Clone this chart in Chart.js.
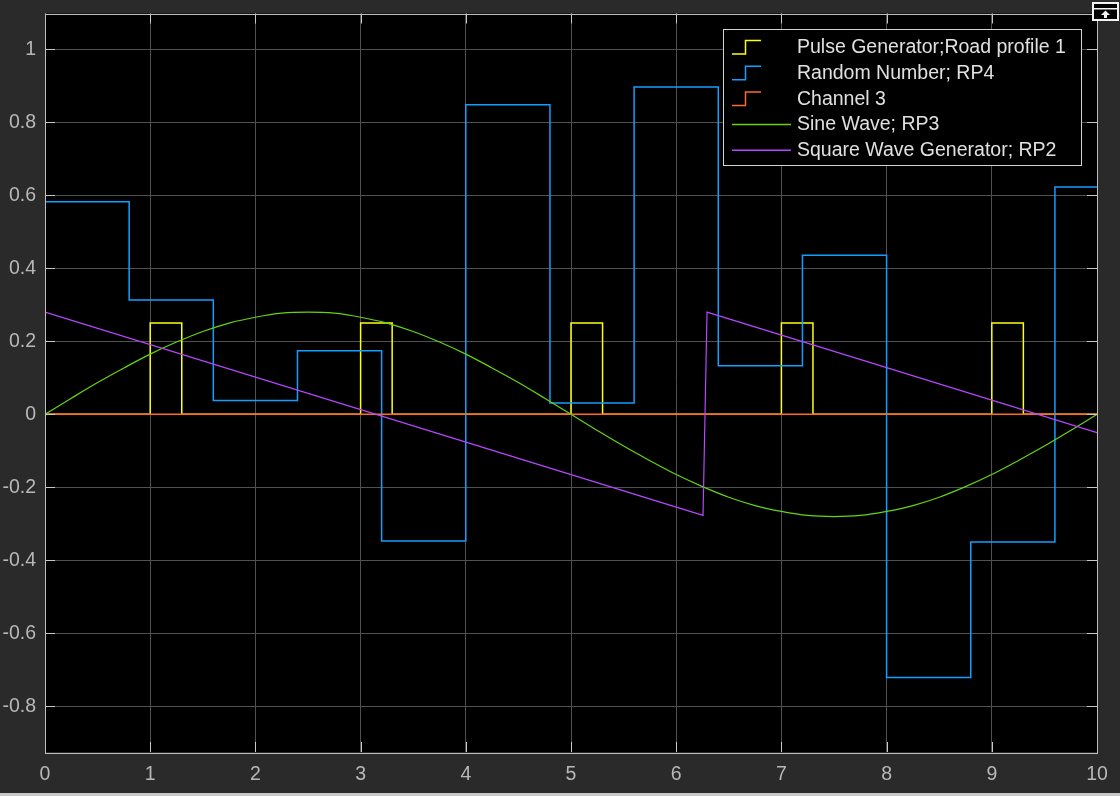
<!DOCTYPE html>
<html><head><meta charset="utf-8">
<script src="https://cdn.jsdelivr.net/npm/chart.js@4.4.1/dist/chart.umd.min.js"></script>
<style>html,body{margin:0;padding:0;background:#2a2a2a;overflow:hidden;}canvas{display:block;}</style>
</head><body>
<canvas id="c" width="1120" height="796"></canvas>
<script>
const xTicks = [0,1,2,3,4,5,6,7,8,9,10];
const yTicks = [-0.8,-0.6,-0.4,-0.2,0,0.2,0.4,0.6,0.8,1];
const seriesNames = ['Pulse Generator;Road profile 1','Random Number; RP4','Channel 3','Sine Wave; RP3','Square Wave Generator; RP2'];

const pulseT = [0,1,1.3,3,3.3,5,5.3,7,7.3,9,9.3,10];
const pulseV = [0,0.25,0,0.25,0,0.25,0,0.25,0,0.25,0,0];

const randT = [0,0.8,1.6,2.4,3.2,4.0,4.8,5.6,6.4,7.2,8.0,8.8,9.6,10];
const randV = [0.582,0.313,0.038,0.174,-0.347,0.848,0.031,0.897,0.133,0.436,-0.721,-0.35,0.623,0.623];

const chanT = [0,10];
const chanV = [0,0];

const sineT = [0,0.25,0.5,0.75,1,1.25,1.5,1.75,2,2.25,2.5,2.75,3,3.25,3.5,3.75,4,4.25,4.5,4.75,5,
               5.25,5.5,5.75,6,6.25,6.5,6.75,7,7.25,7.5,7.75,8,8.25,8.5,8.75,9,9.25,9.5,9.75,10];
const sineV = [0,0.044,0.087,0.127,0.165,0.198,0.227,0.25,0.266,0.277,0.28,0.277,0.266,0.25,0.227,0.198,0.165,0.127,0.087,0.044,0,
               -0.044,-0.087,-0.127,-0.165,-0.198,-0.227,-0.25,-0.266,-0.277,-0.28,-0.277,-0.266,-0.25,-0.227,-0.198,-0.165,-0.127,-0.087,-0.044,0];

const sawT = [0,6.255,6.293,10];
const sawV = [0.28,-0.277,0.28,-0.05];

const pts = (t,v) => t.map((x,i)=>({x:x,y:v[i]}));

const FONT = '"Liberation Sans", Arial, Helvetica, sans-serif';

const framePlugin = {
  id:'frame',
  beforeDraw(chart){
    const c = chart.ctx, a = chart.chartArea;
    c.save();
    c.fillStyle = '#2a2a2a';
    c.fillRect(0,0,chart.width,chart.height);
    c.fillStyle = '#000';
    c.fillRect(a.left,a.top,a.right-a.left,a.bottom-a.top);
    c.restore();
  },
  afterDraw(chart){
    const c = chart.ctx, a = chart.chartArea;
    const xs = chart.scales.x, ys = chart.scales.y;
    c.save();
    c.strokeStyle = '#c8c8c8';
    c.lineWidth = 1;
    c.beginPath();
    xTicks.forEach(v=>{
      const px = Math.round(xs.getPixelForValue(v))+0.5;
      c.moveTo(px,a.bottom); c.lineTo(px,a.bottom-10);
      c.moveTo(px,a.top); c.lineTo(px,a.top+10);
    });
    yTicks.forEach(v=>{
      const py = Math.round(ys.getPixelForValue(v))+0.5;
      c.moveTo(a.left,py); c.lineTo(a.left+10,py);
      c.moveTo(a.right,py); c.lineTo(a.right-10,py);
    });
    c.stroke();
    c.strokeStyle = '#bdbdbd';
    c.strokeRect(Math.round(a.left)+0.5, Math.round(a.top)+0.5, Math.round(a.right-a.left), Math.round(a.bottom-a.top));

    const lx=723.5, ly=29.5, lw=358, lh=136;
    c.fillStyle='#000';
    c.fillRect(lx,ly,lw,lh);
    c.strokeStyle='#d4d4d4';
    c.lineWidth=1;
    c.strokeRect(lx,ly,lw,lh);
    const rowY=[47,72.7,98.4,124,149.7];
    c.font = '19.5px '+FONT;
    c.textBaseline='middle';
    c.textAlign='left';
    chart.data.datasets.forEach((ds,i)=>{
      const y=rowY[i];
      c.strokeStyle=ds.borderColor;
      c.lineWidth=1.5;
      c.beginPath();
      if(ds.legendType==='step'){
        c.moveTo(732,y+7); c.lineTo(745.5,y+7); c.lineTo(745.5,y-6.5); c.lineTo(761,y-6.5);
      } else {
        c.moveTo(732,y+0.5); c.lineTo(791,y+0.5);
      }
      c.stroke();
      c.fillStyle='#e0e0e0';
      c.fillText(ds.label,797,y+1);
    });

    c.fillStyle='#f2f2f2';
    c.fillRect(1092,2,27,19);
    c.fillStyle='#000';
    c.fillRect(1094,4,23,15);
    c.fillStyle='#f2f2f2';
    c.fillRect(1094,8,23,1.5);
    c.beginPath();
    c.moveTo(1105.5,10.5); c.lineTo(1101,15); c.lineTo(1110,15); c.closePath(); c.fill();
    c.fillRect(1104,14,3,4);

    c.fillStyle='#c8c8c8';
    c.fillRect(0,793,chart.width,3);
    c.restore();
  }
};

new Chart(document.getElementById('c'), {
  type:'line',
  data:{
    datasets:[
      {label:seriesNames[0], data:pts(pulseT,pulseV), borderColor:'#ffff11', borderWidth:1.5, stepped:'before', legendType:'step', order:5},
      {label:seriesNames[1], data:pts(randT,randV), borderColor:'#139fff', borderWidth:1.5, stepped:'before', legendType:'step', order:4},
      {label:seriesNames[2], data:pts(chanT,chanV), borderColor:'#ff6929', borderWidth:1.5, stepped:'before', legendType:'step', order:3},
      {label:seriesNames[3], data:pts(sineT,sineV), borderColor:'#64d413', borderWidth:1.2, cubicInterpolationMode:'monotone', legendType:'line', order:2},
      {label:seriesNames[4], data:pts(sawT,sawV), borderColor:'#b746ff', borderWidth:1.2, legendType:'line', order:1}
    ]
  },
  options:{
    responsive:false,
    animation:false,
    events:[],
    layout:{padding:{top:13.5,right:23,left:0,bottom:0}},
    elements:{point:{radius:0},line:{tension:0,borderCapStyle:'butt',borderJoinStyle:'miter'}},
    plugins:{legend:{display:false},tooltip:{enabled:false},title:{display:false}},
    scales:{
      x:{
        type:'linear', min:0, max:10,
        afterBuildTicks(s){ s.ticks = xTicks.map(v=>({value:v})); },
        afterFit(s){ s.height = 44; s.paddingLeft = 0; s.paddingRight = 0; },
        grid:{color:'#505050', lineWidth:1, drawTicks:false},
        border:{display:false},
        ticks:{color:'#b8b8b8', font:{family:FONT, size:19.5}, padding:11, maxRotation:0, callback:v=>String(v)}
      },
      y:{
        type:'linear', min:-0.925, max:1.098,
        afterBuildTicks(s){ s.ticks = yTicks.map(v=>({value:v})); },
        afterFit(s){ s.width = 45; s.paddingTop = 0; s.paddingBottom = 0; },
        grid:{color:'#505050', lineWidth:1, drawTicks:false},
        border:{display:false},
        ticks:{color:'#b8b8b8', font:{family:FONT, size:19.5}, padding:9, callback:v=>String(Math.round(v*10)/10)}
      }
    }
  },
  plugins:[framePlugin]
});
</script>
</body></html>
